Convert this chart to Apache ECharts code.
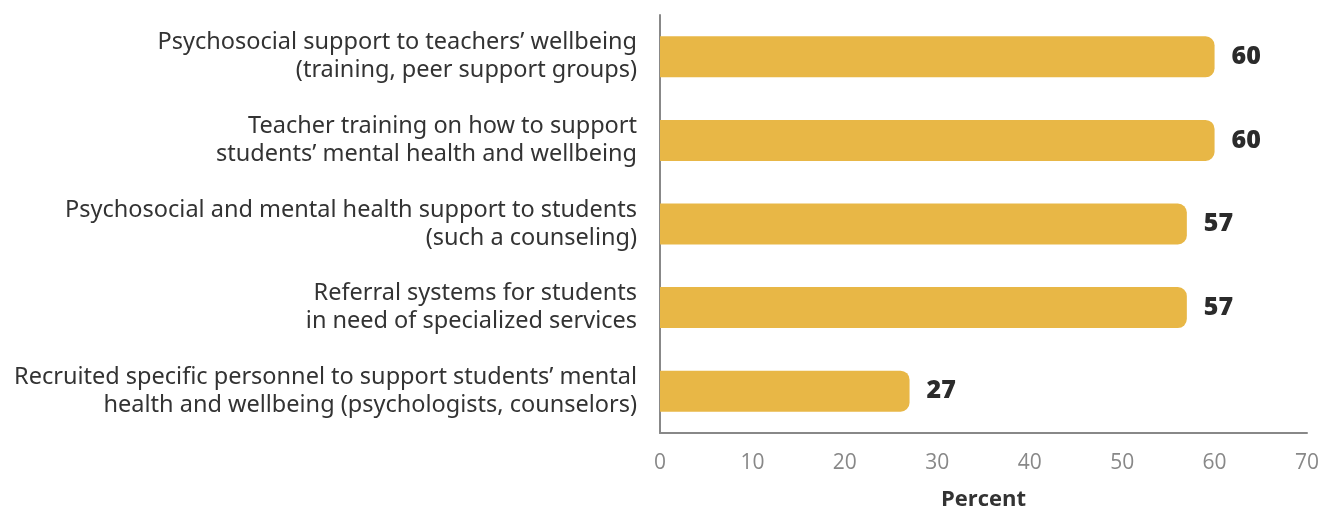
<!DOCTYPE html>
<html>
<head>
<meta charset="utf-8">
<script src="https://cdn.jsdelivr.net/npm/echarts@6/dist/echarts.min.js"></script>
<style>
  html, body { margin: 0; padding: 0; background: #fff; }
  #chart { width: 1330px; height: 508px; }
</style>
</head>
<body>
<div id="chart"></div>
<script>
// categories, top to bottom
const categories = [
    'Psychosocial support to teachers\u2019 wellbeing\n(training, peer support groups)',
    'Teacher training on how to support\nstudents\u2019 mental health and wellbeing',
    'Psychosocial and mental health support to students\n(such a counseling)',
    'Referral systems for students\nin need of specialized services',
    'Recruited specific personnel to support students\u2019 mental\nhealth and wellbeing (psychologists, counselors)'
];
const percentValues = [60, 60, 57, 57, 27];
const xTicks = [0, 70, 10]; // min, max, interval

let chart = echarts.init(document.getElementById('chart'));

chart.setOption({
    animation: false,
    grid: { left: 660, right: 23, top: 15, bottom: 75, containLabel: false, outerBoundsMode: 'none' },
    xAxis: {
        type: 'value',
        min: xTicks[0],
        max: xTicks[1],
        interval: xTicks[2],
        name: 'Percent',
        nameLocation: 'middle',
        nameGap: 56,
        nameTextStyle: { fontFamily: 'Open Sans', fontSize: 22, fontWeight: 'bold', color: '#333' },
        axisLine: { show: true, lineStyle: { color: '#888', width: 2 } },
        axisTick: { show: false },
        splitLine: { show: false },
        axisLabel: { margin: 20, fontFamily: 'Open Sans', fontSize: 21, color: '#888' }
    },
    yAxis: {
        type: 'category',
        data: categories,
        inverse: true,
        axisLine: { show: true, lineStyle: { color: '#888', width: 2 } },
        axisTick: { show: false },
        axisLabel: {
            margin: 23,
            fontFamily: 'Noto Sans',
            fontSize: 23.5,
            lineHeight: 28,
            color: '#333',
            align: 'right'
        }
    },
    series: [{
        type: 'bar',
        data: percentValues,
        barWidth: 41,
        itemStyle: { color: '#E8B746', borderRadius: [0, 9, 9, 0] },
        label: {
            show: true,
            position: 'right',
            distance: 17,
            fontFamily: 'Open Sans',
            fontSize: 25,
            fontWeight: 800,
            color: '#2b2b2b'
        }
    }]
});
</script>
</body>
</html>
